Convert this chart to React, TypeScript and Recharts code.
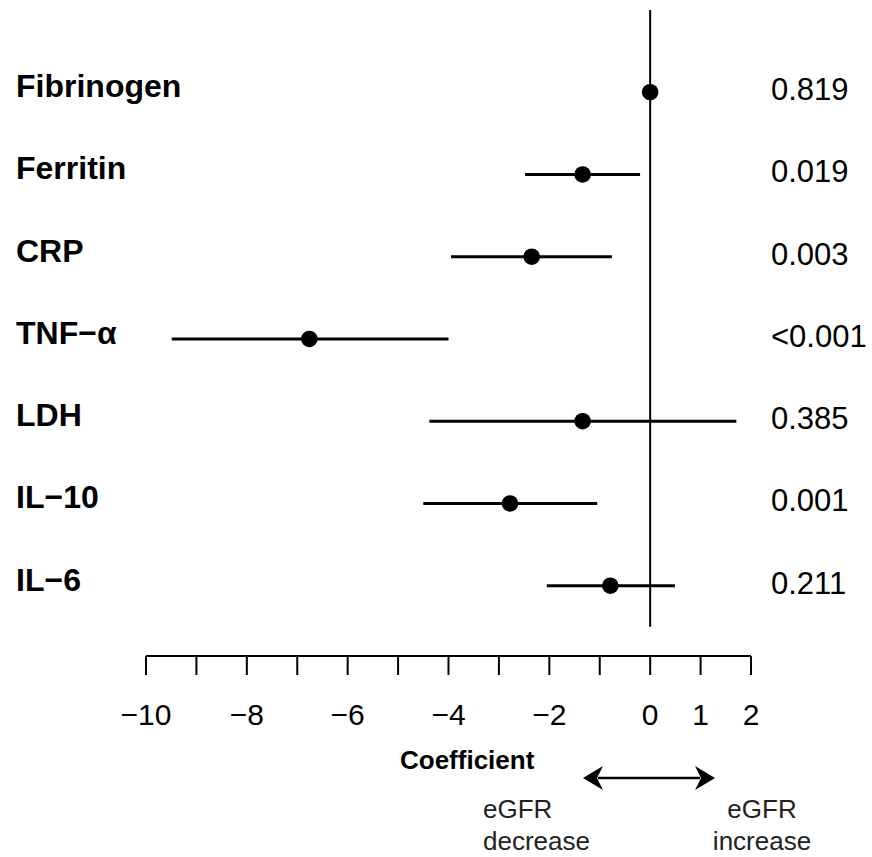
import { ScatterChart, Scatter, XAxis, YAxis, ErrorBar, ReferenceLine } from "recharts";

const FONT = "'Liberation Sans', Arial, Helvetica, sans-serif";

// markers, top to bottom
const markers = ["Fibrinogen", "Ferritin", "CRP", "TNF\u2212\u03b1", "LDH", "IL\u221210", "IL\u22126"];
const estimates = [0.0, -1.34, -2.35, -6.76, -1.34, -2.78, -0.79];
const lowerCI = [-0.08, -2.48, -3.95, -9.49, -4.38, -4.5, -2.05];
const upperCI = [0.08, -0.2, -0.76, -4.0, 1.71, -1.05, 0.49];
const pValues = ["0.819", "0.019", "0.003", "<0.001", "0.385", "0.001", "0.211"];

const xTicks = [-10, -9, -8, -7, -6, -5, -4, -3, -2, -1, 0, 1, 2];
const xTickLabels = ["\u221210", "", "\u22128", "", "\u22126", "", "\u22124", "", "\u22122", "", "0", "1", "2"];

const rowTicks = [1, 2, 3, 4, 5, 6, 7];

const data = markers.map((name, i) => ({
  name,
  row: markers.length - i,
  est: estimates[i],
  ci: [estimates[i] - lowerCI[i], upperCI[i] - estimates[i]],
  p: pValues[i],
}));

const nameFor = (v: number) => markers[markers.length - v] ?? "";
const pFor = (v: number) => pValues[markers.length - v] ?? "";

const XTick = (props: any) => {
  const { x, y, payload } = props;
  const idx = xTicks.indexOf(payload.value);
  return (
    <text x={x} y={y} dy={50} textAnchor="middle" fontSize={30} fontFamily={FONT} fill="#000">
      {xTickLabels[idx]}
    </text>
  );
};

const NameTick = (props: any) => {
  const { y, payload } = props;
  return (
    <text x={16} y={y} dy={5} textAnchor="start" fontSize={32} fontWeight="bold" fontFamily={FONT} fill="#000">
      {nameFor(payload.value)}
    </text>
  );
};

const PTick = (props: any) => {
  const { x, y, payload } = props;
  return (
    <text x={x} y={y} dy={8} textAnchor="start" fontSize={31} fontFamily={FONT} fill="#000">
      {pFor(payload.value)}
    </text>
  );
};

const Dot = (props: any) => <circle cx={props.cx} cy={props.cy} r={8.3} fill="#000" />;

export default function App() {
  return (
    <div style={{ position: "absolute", left: 0, top: 0, width: 872, height: 857, background: "#fff" }}>
      <ScatterChart width={872} height={857} margin={{ top: 10, right: 0, bottom: 0, left: 0 }}>
        <XAxis
          type="number"
          dataKey="est"
          domain={[-10, 2]}
          ticks={xTicks}
          interval={0}
          allowDataOverflow
          height={201}
          tickSize={19}
          tickMargin={0}
          axisLine={{ stroke: "#000", strokeWidth: 2 }}
          tickLine={{ stroke: "#000", strokeWidth: 2 }}
          tick={<XTick />}
        />
        <YAxis
          yAxisId="left"
          type="number"
          dataKey="row"
          domain={[0.145, 8]}
          ticks={rowTicks}
          interval={0}
          allowDataOverflow
          width={146}
          axisLine={false}
          tickLine={false}
          tickSize={0}
          tick={<NameTick />}
        />
        <YAxis
          yAxisId="right"
          orientation="right"
          type="number"
          dataKey="row"
          domain={[0.145, 8]}
          ticks={rowTicks}
          interval={0}
          allowDataOverflow
          width={121}
          axisLine={false}
          tickLine={false}
          tickSize={0}
          tickMargin={20}
          tick={<PTick />}
        />
        <ReferenceLine
          yAxisId="left"
          segment={[{ x: 0, y: 0.5 }, { x: 0, y: 8 }]}
          stroke="#000"
          strokeWidth={2}
          ifOverflow="visible"
        />
        <Scatter yAxisId="left" data={data} shape={<Dot />} isAnimationActive={false}>
          <ErrorBar dataKey="ci" direction="x" width={0} stroke="#000" strokeWidth={3} isAnimationActive={false} />
        </Scatter>
        <Scatter yAxisId="right" data={data} shape={() => <g />} isAnimationActive={false} />
      </ScatterChart>
      <svg
        width={872}
        height={857}
        style={{ position: "absolute", left: 0, top: 0, pointerEvents: "none" }}
        fontFamily={FONT}
      >
        <text x={400} y={769} fontSize={26} fontWeight="bold" fill="#000">Coefficient</text>
        <line x1={598} y1={778} x2={700} y2={778} stroke="#000" strokeWidth={2.5} />
        <polygon points="583,778 603,766 597,778 603,790" fill="#000" />
        <polygon points="715,778 695,766 701,778 695,790" fill="#000" />
        <text x={483} y={818} fontSize={26} fill="#222">eGFR</text>
        <text x={483} y={850} fontSize={26} fill="#222">decrease</text>
        <text x={762} y={818} fontSize={26} fill="#222" textAnchor="middle">eGFR</text>
        <text x={762} y={850} fontSize={26} fill="#222" textAnchor="middle">increase</text>
      </svg>
    </div>
  );
}
